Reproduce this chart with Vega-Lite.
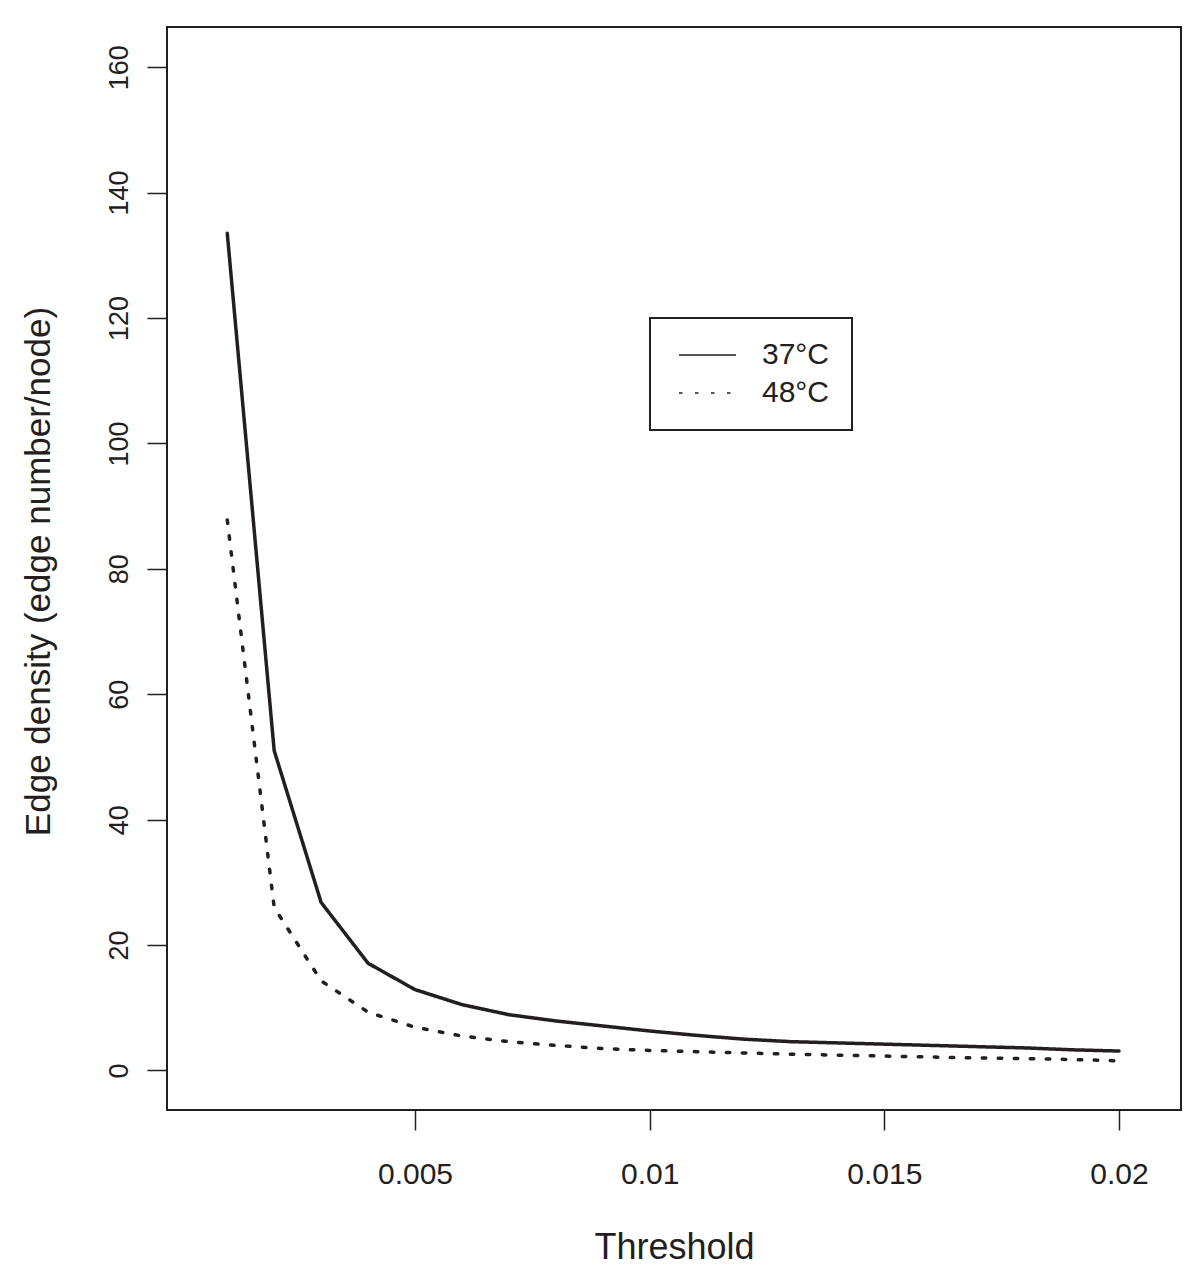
{
  "$schema": "https://vega.github.io/schema/vega-lite/v6.json",
  "width": 1014,
  "height": 1083,
  "autosize": {"type": "none"},
  "padding": {"left": 167, "top": 27, "right": 19, "bottom": 169},
  "background": "white",
  "config": {
    "view": {"stroke": "#231f20", "strokeWidth": 2},
    "font": "Liberation Sans"
  },
  "data": {
    "values": [
      {"threshold": 0.001, "density": 133.5, "temp": "37°C"},
      {"threshold": 0.002, "density": 51.0, "temp": "37°C"},
      {"threshold": 0.003, "density": 26.8, "temp": "37°C"},
      {"threshold": 0.004, "density": 17.1, "temp": "37°C"},
      {"threshold": 0.005, "density": 12.9, "temp": "37°C"},
      {"threshold": 0.006, "density": 10.5, "temp": "37°C"},
      {"threshold": 0.007, "density": 8.9, "temp": "37°C"},
      {"threshold": 0.008, "density": 7.9, "temp": "37°C"},
      {"threshold": 0.009, "density": 7.1, "temp": "37°C"},
      {"threshold": 0.01, "density": 6.3, "temp": "37°C"},
      {"threshold": 0.011, "density": 5.6, "temp": "37°C"},
      {"threshold": 0.012, "density": 5.0, "temp": "37°C"},
      {"threshold": 0.013, "density": 4.6, "temp": "37°C"},
      {"threshold": 0.014, "density": 4.4, "temp": "37°C"},
      {"threshold": 0.015, "density": 4.2, "temp": "37°C"},
      {"threshold": 0.016, "density": 4.0, "temp": "37°C"},
      {"threshold": 0.017, "density": 3.8, "temp": "37°C"},
      {"threshold": 0.018, "density": 3.6, "temp": "37°C"},
      {"threshold": 0.019, "density": 3.3, "temp": "37°C"},
      {"threshold": 0.02, "density": 3.1, "temp": "37°C"},
      {"threshold": 0.001, "density": 87.8, "temp": "48°C"},
      {"threshold": 0.002, "density": 26.0, "temp": "48°C"},
      {"threshold": 0.003, "density": 14.3, "temp": "48°C"},
      {"threshold": 0.004, "density": 9.3, "temp": "48°C"},
      {"threshold": 0.005, "density": 6.9, "temp": "48°C"},
      {"threshold": 0.006, "density": 5.5, "temp": "48°C"},
      {"threshold": 0.007, "density": 4.6, "temp": "48°C"},
      {"threshold": 0.008, "density": 4.0, "temp": "48°C"},
      {"threshold": 0.009, "density": 3.5, "temp": "48°C"},
      {"threshold": 0.01, "density": 3.2, "temp": "48°C"},
      {"threshold": 0.011, "density": 3.0, "temp": "48°C"},
      {"threshold": 0.012, "density": 2.8, "temp": "48°C"},
      {"threshold": 0.013, "density": 2.6, "temp": "48°C"},
      {"threshold": 0.014, "density": 2.45, "temp": "48°C"},
      {"threshold": 0.015, "density": 2.3, "temp": "48°C"},
      {"threshold": 0.016, "density": 2.15, "temp": "48°C"},
      {"threshold": 0.017, "density": 2.0, "temp": "48°C"},
      {"threshold": 0.018, "density": 1.9, "temp": "48°C"},
      {"threshold": 0.019, "density": 1.75, "temp": "48°C"},
      {"threshold": 0.02, "density": 1.55, "temp": "48°C"}
    ]
  },
  "mark": {"type": "line", "strokeWidth": 3.5, "strokeCap": "round", "strokeJoin": "round", "color": "#231f20", "clip": true},
  "encoding": {
    "x": {
      "field": "threshold",
      "type": "quantitative",
      "scale": {"domain": [-0.000284, 0.021321], "nice": false, "zero": false},
      "axis": {
        "values": [0.005, 0.01, 0.015, 0.02],
        "labelExpr": "'' + datum.value",
        "domain": false,
        "grid": false,
        "tickSize": 20,
        "tickWidth": 1.5,
        "tickColor": "#231f20",
        "labelFontSize": 30,
        "labelFont": "Liberation Sans",
        "labelColor": "#231f20",
        "labelBaseline": "alphabetic",
        "labelPadding": 53,
        "labelFlush": false,
        "labelOverlap": false,
        "title": "Threshold",
        "titleFont": "Liberation Sans",
        "titleFontSize": 36,
        "titleFontWeight": "normal",
        "titleColor": "#231f20",
        "titleBaseline": "alphabetic",
        "titleAlign": "center",
        "titleX": 507,
        "titleY": 148
      }
    },
    "y": {
      "field": "density",
      "type": "quantitative",
      "scale": {"domain": [-6.3, 166.4], "nice": false, "zero": false},
      "axis": {
        "values": [0, 20, 40, 60, 80, 100, 120, 140, 160],
        "domain": false,
        "grid": false,
        "tickSize": 20,
        "tickWidth": 1.5,
        "tickColor": "#231f20",
        "labelFontSize": 27,
        "labelFont": "Liberation Sans",
        "labelColor": "#231f20",
        "labelAngle": -90,
        "labelAlign": "center",
        "labelBaseline": "alphabetic",
        "labelPadding": 20,
        "labelFlush": false,
        "labelOverlap": false,
        "title": "Edge density (edge number/node)",
        "titleFont": "Liberation Sans",
        "titleFontSize": 35,
        "titleFontWeight": "normal",
        "titleColor": "#231f20",
        "titleAngle": -90,
        "titleAlign": "center",
        "titleBaseline": "alphabetic",
        "titleX": -118,
        "titleY": 544
      }
    },
    "strokeDash": {
      "field": "temp",
      "type": "nominal",
      "scale": {"domain": ["37°C", "48°C"], "range": [[1, 0], [3.5, 12.5]]},
      "legend": {
        "title": null,
        "orient": "none",
        "legendX": 483,
        "legendY": 291,
        "padding": 22,
        "strokeColor": "#231f20",
        "fillColor": "white",
        "symbolType": "stroke",
        "symbolSize": 3249,
        "symbolStrokeWidth": 1.7,
        "symbolStrokeColor": "#231f20",
        "symbolOffset": 6,
        "clipHeight": 30,
        "rowPadding": 8,
        "labelFontSize": 30,
        "labelFont": "Liberation Sans",
        "labelColor": "#231f20",
        "labelOffset": 25,
        "encode": {
          "legend": {"update": {"strokeWidth": {"value": 2}}},
          "symbols": {
            "enter": {"strokeCap": {"value": "butt"}},
            "update": {"strokeDash": {"signal": "datum.index == 1 ? [3, 4] : [1, 0]"}, "strokeCap": {"value": "butt"}}
          }
        }
      }
    }
  }
}
